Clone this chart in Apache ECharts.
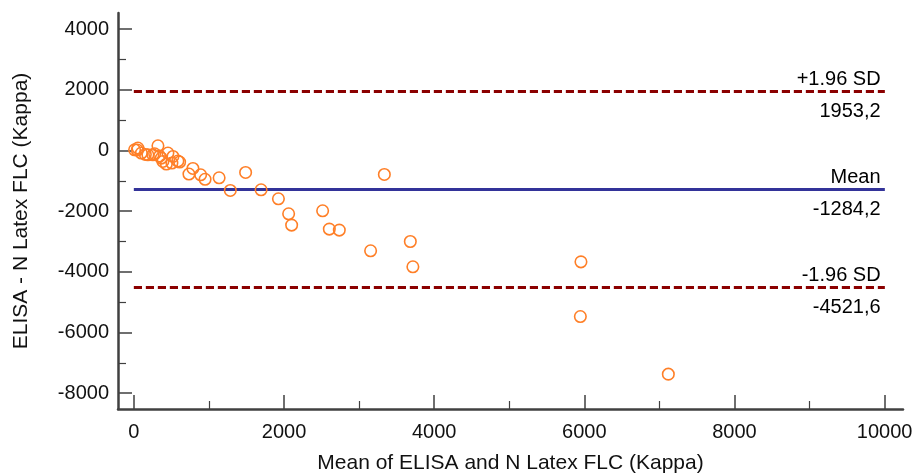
<!DOCTYPE html>
<html>
<head>
<meta charset="utf-8">
<script src="https://cdn.jsdelivr.net/npm/echarts@6/dist/echarts.min.js"></script>
<style>html,body{margin:0;padding:0;background:#fff}#c{width:918px;height:474px}</style>
</head>
<body>
<div id="c"></div>
<script>
// Mean of the two methods (x) and their difference (y)
var meanVals = [9, 45, 53, 99, 152, 186, 253, 320, 276, 342, 365, 386, 432, 453, 520, 506, 586, 609, 733, 786, 889, 948, 1135, 1488, 1284, 1694, 1925, 2061, 2101, 2514, 2603, 2736, 3153, 3336, 3682, 3716, 5955, 5947, 7119];
var diffVals = [23, 13, 79, -86, -132, -142, -142, 155, -109, -185, -251, -363, -448, -86, -198, -415, -349, -382, -778, -593, -801, -950, -900, -725, -1319, -1296, -1592, -2087, -2460, -1988, -2592, -2624, -3307, -791, -3000, -3834, -3670, -5473, -7372];
var meanDiff = -1284.2;
var upperLoA = 1953.2;
var lowerLoA = -4521.6;
var xMajorTicks = [0, 2000, 4000, 6000, 8000, 10000];
var xMinorTicks = [1000, 3000, 5000, 7000, 9000];
var yMajorTicks = [-8000, -6000, -4000, -2000, 0, 2000, 4000];
var yMinorTicks = [-7000, -5000, -3000, -1000, 1000, 3000];
var lineEndX = [0, 10000];

var fmt = function (v) { return v.toFixed(1).replace('.', ','); };
var plain = function (v) { return String(v); };
var points = meanVals.map(function (m, i) { return [m, diffVals[i]]; });
var font = 'Liberation Sans, Arial, sans-serif';
var axisColor = '#404040';
var FS = 20;
var TFS = 21;

function hLine(y, color, type, text, pos, dist) {
  return [
    { coord: [lineEndX[0], y], lineStyle: { color: color, type: type, width: 3 },
      label: { show: true, position: pos, formatter: text, color: '#000', fontSize: FS, fontFamily: font, distance: dist } },
    { coord: [lineEndX[1], y] }
  ];
}

var xRange = { min: -212, max: 10245 };
var yRange = { min: -8520, max: 4530 };

var chart = echarts.init(document.getElementById('c'));
chart.setOption({
  animation: false,
  backgroundColor: '#fff',
  grid: { left: 118, right: 15, top: 13, bottom: 65, containLabel: false, outerBoundsMode: 'none' },
  xAxis: [{
    type: 'value', min: xRange.min, max: xRange.max, position: 'bottom',
    name: 'Mean of ELISA and N Latex FLC (Kappa)', nameLocation: 'middle', nameGap: 44,
    nameTextStyle: { fontSize: TFS, color: '#111', fontFamily: font },
    axisLine: { show: true, onZero: false, lineStyle: { color: axisColor, width: 2.5 } },
    axisTick: { show: true, inside: true, length: 14, customValues: xMajorTicks, lineStyle: { color: axisColor, width: 1.5 } },
    axisLabel: { show: true, customValues: xMajorTicks, formatter: plain, fontSize: FS, color: '#111', fontFamily: font, margin: 13 },
    splitLine: { show: false }
  }, {
    type: 'value', min: xRange.min, max: xRange.max, position: 'bottom',
    axisLine: { show: false, onZero: false },
    axisTick: { show: true, inside: true, length: 8, customValues: xMinorTicks, lineStyle: { color: axisColor, width: 1.2 } },
    axisLabel: { show: false },
    splitLine: { show: false }
  }],
  yAxis: [{
    type: 'value', min: yRange.min, max: yRange.max, position: 'left',
    name: 'ELISA - N Latex FLC (Kappa)', nameLocation: 'middle', nameGap: 86,
    nameTextStyle: { fontSize: TFS, color: '#111', fontFamily: font },
    axisLine: { show: true, onZero: false, lineStyle: { color: axisColor, width: 2.5 } },
    axisTick: { show: true, inside: true, length: 14, customValues: yMajorTicks, lineStyle: { color: axisColor, width: 1.5 } },
    axisLabel: { show: true, customValues: yMajorTicks, formatter: plain, fontSize: FS, color: '#111', fontFamily: font, margin: 9 },
    splitLine: { show: false }
  }, {
    type: 'value', min: yRange.min, max: yRange.max, position: 'left',
    axisLine: { show: false, onZero: false },
    axisTick: { show: true, inside: true, length: 8, customValues: yMinorTicks, lineStyle: { color: axisColor, width: 1.2 } },
    axisLabel: { show: false },
    splitLine: { show: false }
  }],
  series: [{
    type: 'scatter', xAxisIndex: 0, yAxisIndex: 0,
    data: points,
    symbol: 'circle', symbolSize: 11.5,
    itemStyle: { color: 'rgba(255,255,255,0)', borderColor: '#FF7F27', borderWidth: 1.6, opacity: 1 },
    z: 3,
    markLine: {
      silent: true, symbol: ['none', 'none'], animation: false, z: 2,
      data: [
        hLine(upperLoA, '#8B0000', [8, 4], '+1.96 SD', 'insideEndTop', [4, 2]),
        hLine(upperLoA, '#8B0000', [8, 4], fmt(upperLoA), 'insideEndBottom', [4, 10]),
        hLine(meanDiff, '#333399', 'solid', 'Mean', 'insideEndTop', [4, 2]),
        hLine(meanDiff, '#333399', 'solid', fmt(meanDiff), 'insideEndBottom', [4, 10]),
        hLine(lowerLoA, '#8B0000', [8, 4], '-1.96 SD', 'insideEndTop', [4, 2]),
        hLine(lowerLoA, '#8B0000', [8, 4], fmt(lowerLoA), 'insideEndBottom', [4, 10])
      ]
    }
  }]
});
</script>
</body>
</html>
